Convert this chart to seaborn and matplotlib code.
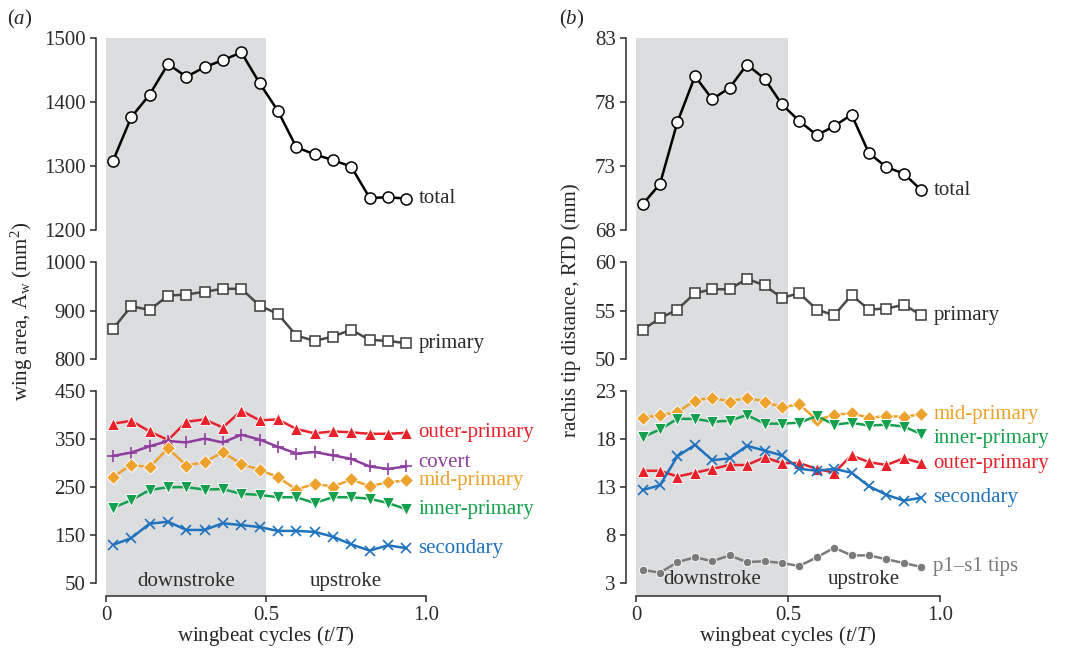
import matplotlib
matplotlib.use("Agg")
import matplotlib.pyplot as plt
import numpy as np
import pandas as pd
import seaborn as sns

# ---------------- data ----------------
t_frac = [0.022, 0.079, 0.136, 0.194, 0.251, 0.308, 0.365, 0.423, 0.480,
          0.537, 0.595, 0.652, 0.709, 0.766, 0.824, 0.881, 0.939]

# (a) wing area (mm^2)
area_total = [1308, 1376, 1411, 1459, 1439, 1454, 1465, 1477, 1429,
              1386, 1329, 1318, 1309, 1299, 1250, 1251, 1249]
area_primary = [862, 909, 901, 931, 933, 939, 945, 945, 910,
                893, 848, 837, 846, 860, 839, 837, 832]
area_outer = [382, 388, 366, 348, 386, 391, 374, 409, 389,
              391, 371, 362, 366, 364, 361, 361, 363]
area_covert = [315, 322, 335, 346, 343, 351, 343, 359, 349,
               334, 320, 323, 316, 309, 293, 288, 293]
area_mid = [271, 297, 291, 331, 295, 302, 323, 298, 286,
            271, 245, 257, 251, 266, 252, 260, 264]
area_inner = [207, 223, 244, 250, 250, 245, 246, 236, 234,
              229, 229, 217, 229, 229, 226, 217, 204]
area_secondary = [130, 144, 174, 178, 161, 161, 175, 171, 167,
                  159, 159, 157, 147, 131, 118, 129, 123]

# (b) rachis tip distance (mm)
rtd_total = [70.0, 71.6, 76.4, 80.0, 78.2, 79.1, 80.9, 79.8, 77.8,
             76.5, 75.4, 76.1, 77.0, 74.0, 72.9, 72.4, 71.1]
rtd_primary = [53.0, 54.2, 55.1, 56.8, 57.2, 57.2, 58.3, 57.6, 56.3,
               56.8, 55.1, 54.5, 56.6, 55.1, 55.2, 55.6, 54.5]
rtd_mid = [20.2, 20.5, 20.8, 22.0, 22.3, 21.9, 22.3, 21.9, 21.3,
           21.6, 20.0, 20.5, 20.7, 20.2, 20.4, 20.3, 20.6]
rtd_inner = [18.2, 19.0, 20.1, 20.1, 19.8, 19.9, 20.5, 19.6, 19.6,
             19.7, 20.4, 19.5, 19.7, 19.4, 19.5, 19.3, 18.5]
rtd_outer = [14.7, 14.7, 14.1, 14.5, 14.9, 15.3, 15.3, 16.1, 15.5,
             15.5, 14.9, 14.5, 16.3, 15.6, 15.3, 16.0, 15.5]
rtd_secondary = [12.7, 13.2, 16.2, 17.4, 15.8, 16.0, 17.3, 16.8, 16.3,
                 14.9, 14.7, 14.9, 14.5, 13.1, 12.2, 11.6, 11.9]
rtd_p1s1 = [4.4, 4.1, 5.2, 5.7, 5.3, 5.9, 5.2, 5.3, 5.1,
            4.8, 5.7, 6.7, 5.9, 5.9, 5.5, 5.1, 4.7]

x_ticks = [0, 0.5, 1.0]
x_ticklabels = ["0", "0.5", "1.0"]

# ---------------- style ----------------
sns.set_style("ticks")
plt.rcParams["font.family"] = ["Liberation Serif", "DejaVu Serif"]
plt.rcParams["mathtext.fontset"] = "custom"
plt.rcParams["mathtext.rm"] = "Liberation Serif"
plt.rcParams["mathtext.it"] = "Liberation Serif:italic"
plt.rcParams["axes.edgecolor"] = "#2b2b2b"
plt.rcParams["xtick.color"] = "#2b2b2b"
plt.rcParams["ytick.color"] = "#2b2b2b"

FS = 15
RED = "#e8212b"
PURPLE = "#8e3f9e"
ORANGE = "#eca22c"
GREEN = "#14a04c"
BLUE = "#1f72bd"
GREY = "#7a7a7a"
SHADE = "#dcdddf"
W, H = 1080, 650

fig = plt.figure(figsize=(W / 100, H / 100), dpi=100)


def px_axes(left, right, top, bottom):
    return fig.add_axes([left / W, 1 - bottom / H, (right - left) / W, (bottom - top) / H])


def style_axis(ax, ylim, yticks, show_x):
    ax.set_facecolor("none")
    ax.set_xlim(0, 1)
    ax.set_ylim(*ylim)
    ax.set_yticks(yticks)
    ax.axvspan(0, 0.5, color=SHADE, lw=0, zorder=0)
    for s in ("top", "right"):
        ax.spines[s].set_visible(False)
    ax.spines["left"].set_position(("outward", 7))
    ax.spines["left"].set_bounds(yticks[0], yticks[-1])
    ax.spines["left"].set_linewidth(1.1)
    ax.tick_params(axis="y", direction="out", length=4.5, width=1.1,
                   labelsize=FS, pad=3)
    if show_x:
        ax.set_xticks(x_ticks)
        ax.set_xticklabels(x_ticklabels)
        ax.spines["bottom"].set_linewidth(1.1)
        ax.spines["bottom"].set_bounds(0, 1)
        ax.tick_params(axis="x", direction="out", length=4.5, width=1.1,
                       labelsize=FS, pad=3)
    else:
        ax.spines["bottom"].set_visible(False)
        ax.tick_params(axis="x", bottom=False, labelbottom=False)


def draw(ax, y, color, marker, ms, mfc, mec, mew, label, lc=None, dy=0):
    df = pd.DataFrame({"t": t_frac, "v": y})
    sns.lineplot(data=df, x="t", y="v", ax=ax, color=lc or color, lw=1.8,
                 marker=marker, markersize=ms, markerfacecolor=mfc,
                 markeredgecolor=mec, markeredgewidth=mew, clip_on=False,
                 zorder=3)
    ax.annotate(label, xy=(t_frac[-1], y[-1]), xytext=(8.6, dy),
                textcoords="offset points", ha="left", va="center",
                fontsize=FS, color=color, annotation_clip=False)
    ax.set_xlabel("")
    ax.set_ylabel("")


def phase_text(ax, y):
    ax.text(0.25, y, "downstroke", ha="center", va="center", fontsize=FS, color="#2b2b2b")
    ax.text(0.75, y, "upstroke", ha="center", va="center", fontsize=FS, color="#2b2b2b")


# ---------------- panel (a) ----------------
aL, aR = 106, 426
a_top = px_axes(aL, aR, 37.7, 246)
a_mid = px_axes(aL, aR, 246, 375)
a_bot = px_axes(aL, aR, 375, 595.7)

draw(a_top, area_total, "#2b2b2b", "o", 8, "white", "black", 1.1, "total", lc="black")
draw(a_mid, area_primary, "#2b2b2b", "s", 7.5, "white", "#3a3a3a", 1.1, "primary", lc="#4a4a4a")
draw(a_bot, area_outer, RED, "^", 8, RED, "white", 0.7, "outer-primary")
draw(a_bot, area_covert, PURPLE, "+", 8, PURPLE, PURPLE, 1.2, "covert", dy=3)
draw(a_bot, area_mid, ORANGE, "D", 7, ORANGE, "white", 0.7, "mid-primary")
draw(a_bot, area_inner, GREEN, "v", 8, GREEN, "white", 0.7, "inner-primary")
draw(a_bot, area_secondary, BLUE, "x", 7, BLUE, BLUE, 1.2, "secondary")

style_axis(a_top, (1175, 1500), [1200, 1300, 1400, 1500], False)
style_axis(a_mid, (766.2, 1033.8), [800, 900, 1000], False)
style_axis(a_bot, (24.2, 483.3), [50, 150, 250, 350, 450], True)
phase_text(a_bot, 54)

# ---------------- panel (b) ----------------
bL, bR = 636, 940
b_top = px_axes(bL, bR, 37.7, 246)
b_mid = px_axes(bL, bR, 246, 375)
b_bot = px_axes(bL, bR, 375, 595.7)

draw(b_top, rtd_total, "#2b2b2b", "o", 8, "white", "black", 1.1, "total", lc="black")
draw(b_mid, rtd_primary, "#2b2b2b", "s", 7.5, "white", "#3a3a3a", 1.1, "primary", lc="#4a4a4a")
draw(b_bot, rtd_outer, RED, "^", 8, RED, "white", 0.7, "outer-primary")
draw(b_bot, rtd_mid, ORANGE, "D", 7, ORANGE, "white", 0.7, "mid-primary")
draw(b_bot, rtd_inner, GREEN, "v", 8, GREEN, "white", 0.7, "inner-primary", dy=-3)
draw(b_bot, rtd_secondary, BLUE, "x", 7, BLUE, BLUE, 1.2, "secondary")
draw(b_bot, rtd_p1s1, GREY, "o", 6, GREY, "white", 0.6, "p1\u2013s1 tips")

style_axis(b_top, (66.75, 83), [68, 73, 78, 83], False)
style_axis(b_mid, (48.31, 61.69), [50, 55, 60], False)
style_axis(b_bot, (1.71, 24.66), [3, 8, 13, 18, 23], True)
phase_text(b_bot, 3.4)

# ---------------- figure text ----------------
xlab = "wingbeat cycles ($t$/$T$)"
fig.text((aL + aR) / 2 / W, 1 - 636 / H, xlab, ha="center", va="center", fontsize=FS)
fig.text((bL + bR) / 2 / W, 1 - 636 / H, xlab, ha="center", va="center", fontsize=FS)
fig.text(20 / W, 1 - 19 / H, "($a$)", ha="center", va="center", fontsize=FS)
fig.text(572 / W, 1 - 19 / H, "($b$)", ha="center", va="center", fontsize=FS)
fig.text(22 / W, 1 - 311 / H, r"wing area, $\mathrm{A_w}$ (mm$^2$)", rotation=90,
         ha="center", va="center", fontsize=FS)
fig.text(571 / W, 1 - 310 / H, "rachis tip distance, RTD (mm)", rotation=90,
         ha="center", va="center", fontsize=FS)

fig.savefig("out.png", dpi=100)
